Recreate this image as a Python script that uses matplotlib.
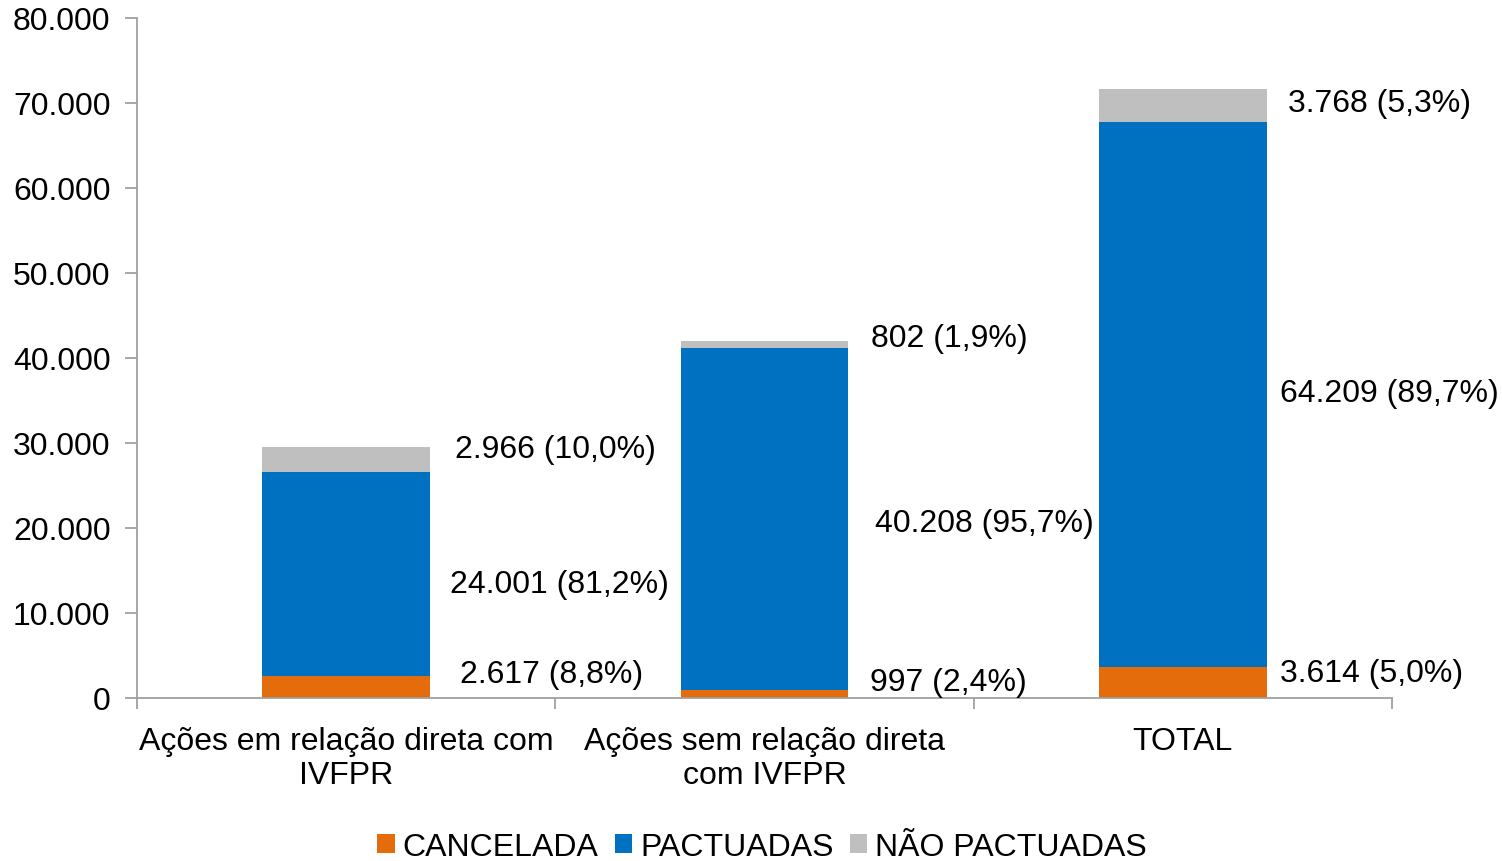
import matplotlib
matplotlib.use("Agg")
import matplotlib.pyplot as plt
from matplotlib.patches import Patch
import numpy as np

categories = ["Ações em relação direta com\nIVFPR", "Ações sem relação direta\ncom IVFPR", "TOTAL"]
cancelada = [2617, 997, 3614]
pactuadas = [24001, 40208, 64209]
nao_pactuadas = [2966, 802, 3768]
lbl_cancelada = ["2.617 (8,8%)", "997 (2,4%)", "3.614 (5,0%)"]
lbl_pactuadas = ["24.001 (81,2%)", "40.208 (95,7%)", "64.209 (89,7%)"]
lbl_nao = ["2.966 (10,0%)", "802 (1,9%)", "3.768 (5,3%)"]
series_names = ["CANCELADA", "PACTUADAS", "NÃO PACTUADAS"]
yticks = [0, 10000, 20000, 30000, 40000, 50000, 60000, 70000, 80000]
ytick_labels = ["0", "10.000", "20.000", "30.000", "40.000", "50.000", "60.000", "70.000", "80.000"]

colors = ["#E46C0A", "#0070C0", "#BFBFBF"]
axis_color = "#A0A0A0"
FS = 23

plt.rcParams['font.family'] = ['Liberation Sans', 'DejaVu Sans']

fig = plt.figure(figsize=(15.02, 8.62), dpi=100)
ax = fig.add_axes([137/1502, 1-699/862, (1392-137)/1502, (699-19)/862])

x = np.arange(len(categories))
w = 0.40
c = np.array(cancelada)
p = np.array(pactuadas)
n = np.array(nao_pactuadas)
ax.bar(x, c, w, color=colors[0])
ax.bar(x, p, w, bottom=c, color=colors[1])
ax.bar(x, n, w, bottom=c + p, color=colors[2])

ax.set_xlim(-0.5, 2.5)
ax.set_ylim(0, 80000)
ax.set_yticks(yticks)
ax.set_yticklabels(ytick_labels, fontsize=FS)
ax.set_xticks([-0.5, 0.5, 1.5, 2.5])
ax.set_xticklabels([])
ax.set_xticks(x, minor=True)
ax.set_xticklabels(categories, minor=True, fontsize=FS, linespacing=1.19)
ax.tick_params(axis='x', which='minor', length=0, pad=20)
ax.tick_params(axis='x', which='major', length=8, color=axis_color, width=1.3)
ax.tick_params(axis='y', length=9, color=axis_color, width=1.3, pad=10)
for s in ['top', 'right']:
    ax.spines[s].set_visible(False)
for s in ['left', 'bottom']:
    ax.spines[s].set_color(axis_color)
    ax.spines[s].set_linewidth(1.3)

# label offsets in pixels (dx from bar right edge, dy from segment center)
off_c = [(30, 13), (22, 12), (13, 10)]
off_p = [(20, -10), (27, -4), (13, 1)]
off_n = [(25, 10), (23, 6), (21, 2)]
for i in range(len(categories)):
    xr = x[i] + w / 2
    segs = [(c[i] / 2, lbl_cancelada[i], off_c[i]),
            (c[i] + p[i] / 2, lbl_pactuadas[i], off_p[i]),
            (c[i] + p[i] + n[i] / 2, lbl_nao[i], off_n[i])]
    for yc, txt, (dx, dy) in segs:
        ax.annotate(txt, (xr, yc), xytext=(dx, dy), textcoords='offset pixels',
                    ha='left', va='center', fontsize=FS)

handles = [Patch(facecolor=col, edgecolor='none') for col in colors]
fig.legend(handles, series_names, loc='center', bbox_to_anchor=(762/1502, 1-848/862),
           ncol=3, frameon=False, fontsize=FS, handlelength=0.55, handleheight=0.55,
           handletextpad=0.25, columnspacing=0.5, borderaxespad=0)

fig.savefig("out.png", dpi=100)
